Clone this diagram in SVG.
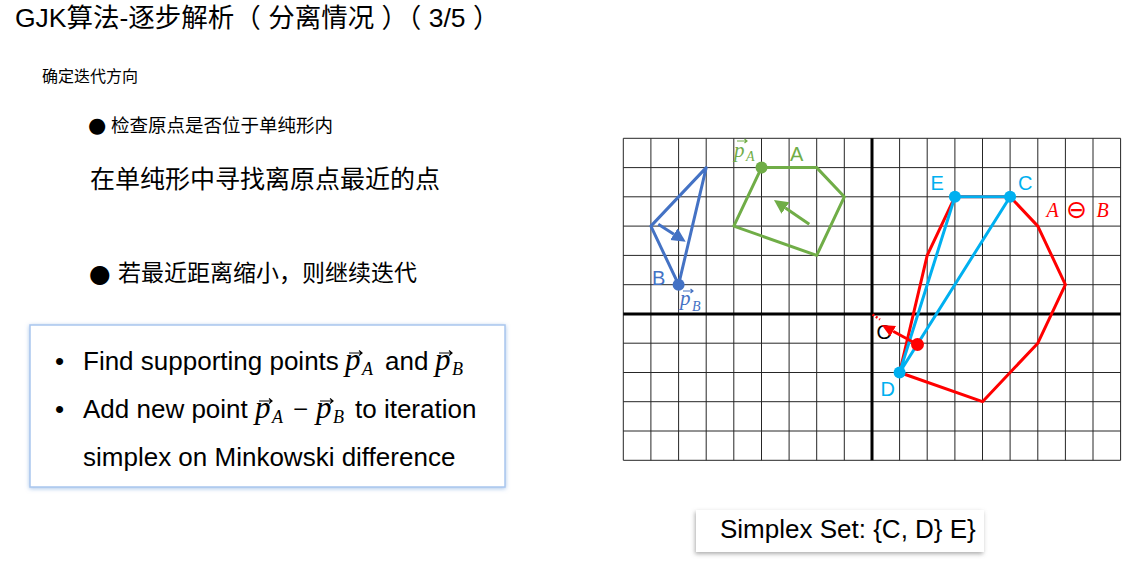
<svg xmlns="http://www.w3.org/2000/svg" width="1129" height="570" viewBox="0 0 1129 570">
<style>
.zh{font-family:"Liberation Sans","Noto Sans CJK SC",sans-serif;fill:#000}
.en{font-family:"Liberation Sans",Arial,sans-serif;fill:#000}
.mi{font-family:"Liberation Serif","Times New Roman",serif;font-style:italic}
.dot{font-family:"DejaVu Sans",sans-serif;fill:#000}
.lbl{font-family:"Liberation Sans",Arial,sans-serif;font-size:20px}
.grid{stroke:#262626;stroke-width:1;fill:none}
.axis{stroke:#000;stroke-width:3;fill:none}
.g{stroke:#70AD47;stroke-width:3;fill:none;stroke-linejoin:round}
.b{stroke:#4472C4;stroke-width:3;fill:none;stroke-linejoin:round}
.r{stroke:#FF0000;stroke-width:3;fill:none;stroke-linejoin:round}
.c{stroke:#00B0F0;stroke-width:3;fill:none}
.vec{stroke-width:1.2;fill:none}
</style>
<defs>
<marker id="ahG" markerUnits="userSpaceOnUse" markerWidth="16" markerHeight="16" refX="0" refY="7" orient="auto"><path d="M0,0 L14,7 L0,14 z" fill="#70AD47"/></marker>
<marker id="ahB" markerUnits="userSpaceOnUse" markerWidth="16" markerHeight="16" refX="0" refY="7" orient="auto"><path d="M0,0 L14,7 L0,14 z" fill="#4472C4"/></marker>
<marker id="ahR" markerUnits="userSpaceOnUse" markerWidth="16" markerHeight="16" refX="0" refY="6" orient="auto"><path d="M0,0 L13,6 L0,12 z" fill="#FF0000"/></marker>
<filter id="shBlue" x="-5%" y="-10%" width="110%" height="125%"><feDropShadow dx="0" dy="1" stdDeviation="2" flood-color="#6f9fdc" flood-opacity="0.6"/></filter>
<filter id="shGray" x="-5%" y="-20%" width="110%" height="150%"><feDropShadow dx="-1" dy="2" stdDeviation="2" flood-color="#777" flood-opacity="0.6"/></filter>
</defs>
<rect width="1129" height="570" fill="#fff"/>

<g id="title">
<text class="zh" x="15" y="27" font-size="26.5">GJK算法-逐步解析（ 分离情况 ）（ 3/5 ）</text>
</g>

<g id="left-text">
<text class="zh" x="42" y="82" font-size="16">确定迭代方向</text>
<text class="dot" x="88" y="132" font-size="21">●</text>
<text class="zh" x="111" y="132" font-size="18.5">检查原点是否位于单纯形内</text>
<text class="zh" x="90" y="188" font-size="25">在单纯形中寻找离原点最近的点</text>
<text class="dot" x="89" y="281.5" font-size="25">●</text>
<text class="zh" x="118" y="281" font-size="23">若最近距离缩小，则继续迭代</text>
</g>

<g id="box">
<rect x="30" y="325" width="475" height="162" fill="#fff" stroke="#A9C6EE" stroke-width="1.5" filter="url(#shBlue)"/>
<text class="en" x="55" y="370" font-size="26">•</text>
<text class="en" x="83" y="370" font-size="26">Find supporting points</text>
<text class="mi" x="345" y="370" font-size="31">p</text>
<path class="vec" d="M349,353 H362 M359,350.5 L362,353 L359,355.5" stroke="#000"/>
<text class="mi" x="362" y="375" font-size="18">A</text>
<text class="en" x="385" y="370" font-size="26">and</text>
<text class="mi" x="435" y="370" font-size="31">p</text>
<path class="vec" d="M439,353 H452 M449,350.5 L452,353 L449,355.5" stroke="#000"/>
<text class="mi" x="452" y="375" font-size="18">B</text>

<text class="en" x="55" y="418" font-size="26">•</text>
<text class="en" x="83" y="418" font-size="26">Add new point</text>
<text class="mi" x="255" y="418" font-size="31">p</text>
<path class="vec" d="M259,401 H272 M269,398.5 L272,401 L269,403.5" stroke="#000"/>
<text class="mi" x="272" y="423" font-size="18">A</text>
<text x="293" y="418" font-size="27" font-family="Liberation Serif,serif">−</text>
<text class="mi" x="316" y="418" font-size="31">p</text>
<path class="vec" d="M320,401 H333 M330,398.5 L333,401 L330,403.5" stroke="#000"/>
<text class="mi" x="333" y="423" font-size="18">B</text>
<text class="en" x="355" y="418" font-size="26">to iteration</text>
<text class="en" x="83" y="466" font-size="26">simplex on Minkowski difference</text>
</g>

<g id="grid">
<path class="grid" d="M623.3,138.3 V460.3 M650.9,138.3 V460.3 M678.6,138.3 V460.3 M706.2,138.3 V460.3 M733.8,138.3 V460.3 M761.5,138.3 V460.3 M789.1,138.3 V460.3 M816.7,138.3 V460.3 M844.3,138.3 V460.3 M899.6,138.3 V460.3 M927.2,138.3 V460.3 M954.9,138.3 V460.3 M982.5,138.3 V460.3 M1010.1,138.3 V460.3 M1037.8,138.3 V460.3 M1065.4,138.3 V460.3 M1093,138.3 V460.3 M1120.6,138.3 V460.3 M623.3,138.3 H1120.6 M623.3,167.6 H1120.6 M623.3,196.8 H1120.6 M623.3,226.1 H1120.6 M623.3,255.4 H1120.6 M623.3,284.7 H1120.6 M623.3,343.2 H1120.6 M623.3,372.5 H1120.6 M623.3,401.7 H1120.6 M623.3,431 H1120.6 M623.3,460.3 H1120.6"/>
<path class="axis" d="M872,138.3 V460.3 M623.3,313.9 H1120.6"/>
</g>

<g id="shape-A">
<polygon class="g" points="761.5,167.6 816.7,167.6 844.3,196.8 816.7,255.4 733.8,226.1"/>
<circle cx="761.5" cy="167.6" r="6" fill="#70AD47"/>
<text class="lbl" x="790" y="161" fill="#70AD47">A</text>
<text class="mi" x="734" y="157" font-size="21" fill="#70AD47">p</text>
<path class="vec" d="M737,141 H747 M744.5,139 L747,141 L744.5,143" stroke="#70AD47"/>
<text class="mi" x="746" y="161" font-size="14" fill="#70AD47">A</text>
</g>

<g id="shape-B">
<polygon class="b" points="706.2,167.6 650.9,226.1 678.6,284.7"/>
<circle cx="678.6" cy="284.7" r="6" fill="#4472C4"/>
<text class="lbl" x="652" y="285" fill="#4472C4">B</text>
<text class="mi" x="680" y="305" font-size="21" fill="#4472C4">p</text>
<path class="vec" d="M683,291 H693 M690.5,289 L693,291 L690.5,293" stroke="#4472C4"/>
<text class="mi" x="692" y="311" font-size="14" fill="#4472C4">B</text>
</g>

<g id="minkowski">
<polygon class="r" points="954.9,196.8 1010.1,196.8 1037.8,226.1 1065.4,284.7 1037.8,343.2 982.5,401.7 899.6,372.5 927.2,255.4"/>
<text class="mi" x="1046.5" y="217" font-size="20" fill="#FF0000">A</text>
<text x="1066" y="218" font-size="25" font-family="DejaVu Sans,sans-serif" fill="#FF0000">⊖</text>
<text class="mi" x="1096.5" y="217" font-size="20" fill="#FF0000">B</text>
</g>

<g id="simplex">
<path class="c" d="M954.9,196.8 H1010.1 L899.6,372.5 L954.9,196.8"/>
<circle cx="954.9" cy="196.8" r="6" fill="#00B0F0"/>
<circle cx="1010.1" cy="196.8" r="6" fill="#00B0F0"/>
<circle cx="899.6" cy="372.5" r="6" fill="#00B0F0"/>
<text class="lbl" x="930.5" y="190" fill="#00B0F0">E</text>
<text class="lbl" x="1018" y="190" fill="#00B0F0">C</text>
<text class="lbl" x="880.5" y="396" fill="#00B0F0">D</text>
</g>

<g id="origin">
<text class="lbl" x="876.5" y="339" font-size="21" fill="#000">O</text>
</g>

<g id="connectors">
<line x1="809.3" y1="224.3" x2="785.5" y2="207.9" class="g" marker-end="url(#ahG)"/>
<line x1="658.3" y1="224.3" x2="673.9" y2="234.2" class="b" marker-end="url(#ahB)"/>
<line x1="917.5" y1="344.5" x2="893.1" y2="331.2" class="r" marker-end="url(#ahR)"/>
<line x1="872.5" y1="314.5" x2="880" y2="319.5" stroke="#FF0000" stroke-width="2.5" stroke-dasharray="2 2"/>
<circle cx="917.5" cy="344.5" r="6.5" fill="#FF0000"/>
</g>

<g id="simplex-set">
<rect x="696" y="510" width="288" height="42" fill="#fff" filter="url(#shGray)"/>
<text class="en" x="720" y="538" font-size="26">Simplex Set: {C, D} E}</text>
</g>
</svg>
